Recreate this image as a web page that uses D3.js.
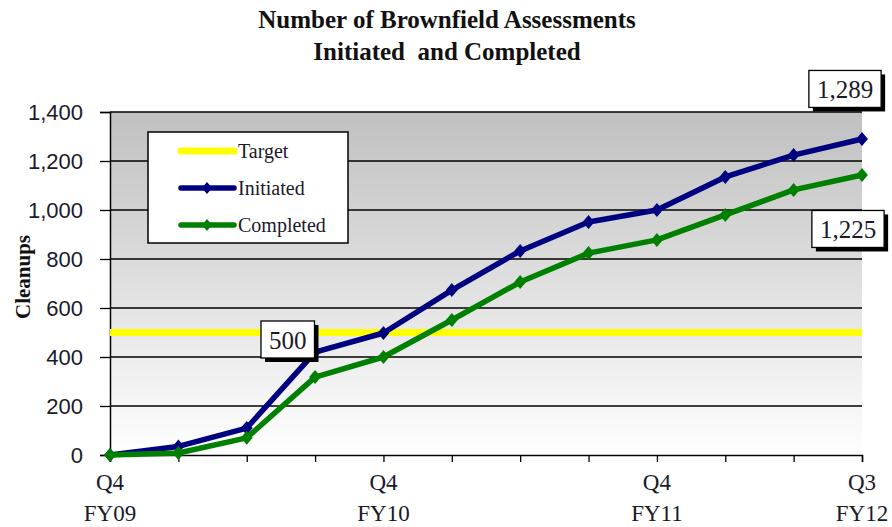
<!DOCTYPE html>
<html>
<head>
<meta charset="utf-8">
<script src="https://cdn.jsdelivr.net/npm/d3@7"></script>
<style>
  html, body { margin: 0; padding: 0; background: #ffffff; }
  svg { display: block; }
</style>
</head>
<body>
<svg id="chart" width="892" height="527"></svg>
<script>
// ---- Data ----
const categories = ["Q4 FY09","Q1 FY10","Q2 FY10","Q3 FY10","Q4 FY10","Q1 FY11","Q2 FY11","Q3 FY11","Q4 FY11","Q1 FY12","Q2 FY12","Q3 FY12"];
const labeledTicks = {"Q4 FY09": ["Q4","FY09"], "Q4 FY10": ["Q4","FY10"], "Q4 FY11": ["Q4","FY11"], "Q3 FY12": ["Q3","FY12"]};
const initiated = [0, 35, 110, 420, 498, 673, 833, 951, 1000, 1135, 1224, 1290];
const completed = [0, 8, 70, 318, 400, 551, 706, 824, 878, 980, 1082, 1143];
const target = 500;
const yTicks = [0, 200, 400, 600, 800, 1000, 1200, 1400];
const titleLines = ["Number of Brownfield Assessments", "Initiated  and Completed"];
const yAxisTitle = "Cleanups";
const seriesNames = ["Target", "Initiated", "Completed"];
const seriesColors = ["#ffff00", "#000080", "#008000"];
const annotations = [
  {text: "1,289", series: "initiated", index: 11, dx: -17, dy: -50},
  {text: "1,225", series: "completed", index: 11, dx: -14, dy: 54},
  {text: "500", series: "target", index: 2.6, dx: 0, dy: 7}
];

// ---- Layout ----
const W = 892, H = 527;
const margin = {left: 110, right: 30, top: 112, bottom: 72};
const svg = d3.select("#chart");

const x = d3.scalePoint().domain(categories).range([margin.left, W - margin.right]).padding(0);
const y = d3.scaleLinear().domain([0, 1400]).range([H - margin.bottom, margin.top]);

// Background gradient
const defs = svg.append("defs");
const grad = defs.append("linearGradient").attr("id", "bg").attr("x1", 0).attr("y1", 0).attr("x2", 0).attr("y2", 1);
grad.append("stop").attr("offset", "0%").attr("stop-color", "#c0c0c0");
grad.append("stop").attr("offset", "100%").attr("stop-color", "#ffffff");

const plotL = x.range()[0], plotR = x.range()[1];
svg.append("rect")
  .attr("x", plotL).attr("y", y(1400))
  .attr("width", plotR - plotL).attr("height", y(0) - y(1400))
  .attr("fill", "url(#bg)");

// Gridlines
svg.append("g").selectAll("line").data(yTicks.filter(d => d > 0)).join("line")
  .attr("x1", plotL).attr("x2", plotR)
  .attr("y1", d => y(d)).attr("y2", d => y(d))
  .attr("stroke", "#000").attr("stroke-width", 1.3);

// Y axis
const yAxis = svg.append("g").attr("transform", `translate(${plotL},0)`)
  .call(d3.axisLeft(y).tickValues(yTicks).tickSize(10).tickFormat(""));
yAxis.select(".domain").attr("stroke", "#000").attr("stroke-width", 1.5);
yAxis.selectAll(".tick line").attr("stroke", "#000").attr("stroke-width", 1.3);
svg.append("g").selectAll("text").data(yTicks).join("text")
  .attr("x", plotL - 27).attr("y", d => y(d) + 8)
  .attr("text-anchor", "end")
  .attr("font-family", "Liberation Sans, Arial, sans-serif")
  .attr("font-size", 22).attr("fill", "#1a1a2a")
  .text(d => d3.format(",")(d));

// X axis
const xAxis = svg.append("g").attr("transform", `translate(0,${y(0)})`)
  .call(d3.axisBottom(x).tickSize(7).tickFormat(""));
xAxis.select(".domain").attr("stroke", "#000").attr("stroke-width", 1.5);
xAxis.selectAll(".tick line").attr("stroke", "#000").attr("stroke-width", 1.3);
const xl = svg.append("g").selectAll("text").data(categories.filter(c => labeledTicks[c])).join("text")
  .attr("text-anchor", "middle")
  .attr("font-family", "Liberation Serif, Times New Roman, serif")
  .attr("font-size", 23).attr("fill", "#1a1a2a");
xl.append("tspan").attr("x", d => x(d)).attr("y", y(0) + 35).text(d => labeledTicks[d][0]);
xl.append("tspan").attr("x", d => x(d)).attr("y", y(0) + 66).text(d => labeledTicks[d][1]);

// Target line
svg.append("line")
  .attr("x1", plotL).attr("x2", plotR)
  .attr("y1", y(target)).attr("y2", y(target))
  .attr("stroke", seriesColors[0]).attr("stroke-width", 7);

// Series
const diamond = (s) => `M0,${-s}L${s * 0.85},0L0,${s}L${-s * 0.85},0Z`;
function drawSeries(values, color) {
  const line = d3.line().x((d, i) => x(categories[i])).y(d => y(d));
  svg.append("path").datum(values).attr("d", line)
    .attr("fill", "none").attr("stroke", color).attr("stroke-width", 5.5)
    .attr("stroke-linejoin", "round");
  svg.append("g").selectAll("path").data(values).join("path")
    .attr("transform", (d, i) => `translate(${x(categories[i])},${y(d)})`)
    .attr("d", diamond(7)).attr("fill", color);
}
drawSeries(initiated, seriesColors[1]);
drawSeries(completed, seriesColors[2]);

// Title
svg.append("g").selectAll("text").data(titleLines).join("text")
  .attr("x", 447).attr("y", (d, i) => 28 + i * 32)
  .attr("text-anchor", "middle")
  .attr("font-family", "Liberation Serif, Times New Roman, serif")
  .attr("font-weight", "bold").attr("font-size", 25).attr("fill", "#111")
  .attr("xml:space", "preserve").style("white-space", "pre")
  .text(d => d);

// Y axis title
svg.append("text")
  .attr("transform", `translate(30,277) rotate(-90)`)
  .attr("text-anchor", "middle")
  .attr("font-family", "Liberation Serif, Times New Roman, serif")
  .attr("font-weight", "bold").attr("font-size", 21).attr("fill", "#111")
  .text(yAxisTitle);

// Legend
const lg = svg.append("g");
lg.append("rect").attr("x", 148).attr("y", 132).attr("width", 200).attr("height", 111)
  .attr("fill", "#fff").attr("stroke", "#000").attr("stroke-width", 1.5);
const rows = lg.selectAll("g").data(seriesNames).join("g")
  .attr("transform", (d, i) => `translate(0,${151 + i * 37})`);
rows.append("line").attr("x1", 181).attr("x2", 234).attr("y1", 0).attr("y2", 0)
  .attr("stroke", (d, i) => seriesColors[i]).attr("stroke-width", (d, i) => i === 0 ? 7 : 5.5)
  .attr("stroke-linecap", "round");
rows.filter((d, i) => i > 0).append("path")
  .attr("transform", "translate(207,0)").attr("d", diamond(6))
  .attr("fill", (d) => seriesColors[seriesNames.indexOf(d)]);
rows.append("text").attr("x", 238).attr("y", 7)
  .attr("font-family", "Liberation Serif, Times New Roman, serif")
  .attr("font-size", 20).attr("fill", "#1a1a2a")
  .text(d => d);

// Annotations (value boxes with shadow)
const seriesMap = {initiated, completed};
annotations.forEach(a => {
  let cx, cy;
  if (a.series === "target") {
    const i0 = Math.floor(a.index), f = a.index - i0;
    cx = x(categories[i0]) + f * x.step();
    cy = y(target) + a.dy;
  } else {
    cx = x(categories[a.index]) + a.dx;
    cy = y(seriesMap[a.series][a.index]) + a.dy;
  }
  const g = svg.append("g").attr("transform", `translate(${cx},${cy})`);
  const t = g.append("text").attr("text-anchor", "middle").attr("y", 9)
    .attr("font-family", "Liberation Serif, Times New Roman, serif")
    .attr("font-size", 25).attr("fill", "#1a1a2a").text(a.text);
  const bw = t.node().getComputedTextLength() + 16, bh = 37;
  g.insert("rect", "text").attr("x", -bw / 2 + 4).attr("y", -bh / 2 + 4).attr("width", bw).attr("height", bh).attr("fill", "#000");
  g.insert("rect", "text").attr("x", -bw / 2).attr("y", -bh / 2).attr("width", bw).attr("height", bh)
    .attr("fill", "#fff").attr("stroke", "#000").attr("stroke-width", 1.3);
});
</script>
</body>
</html>
